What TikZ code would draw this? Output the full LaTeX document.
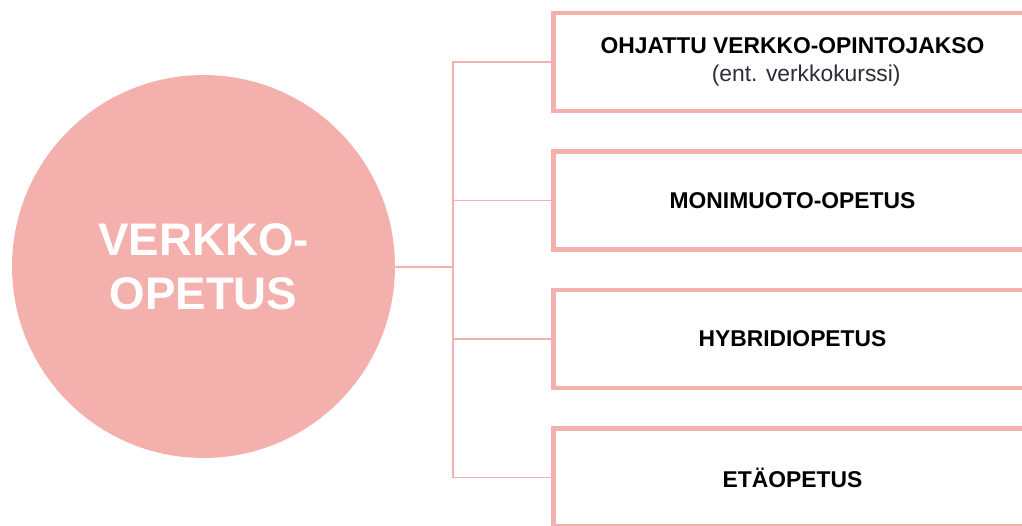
\documentclass[tikz,border=0pt]{standalone}
\usepackage{fontspec}
\setmainfont{Liberation Sans}
\definecolor{verkko}{RGB}{244,176,172}
\definecolor{subgray}{RGB}{45,45,55}

\begin{document}
\begin{tikzpicture}[x=0.02cm,y=-0.02cm,
  hub/.style={circle,fill=verkko,minimum size=7.66cm,inner sep=0pt,text=white,
    font=\fontsize{26}{31}\selectfont\bfseries,align=center},
  box/.style={draw=verkko,line width=2.8pt,fill=white,minimum width=9.56cm,
    minimum height=1.96cm,inner sep=0pt,font=\fontsize{13}{16}\selectfont\bfseries,align=center},
  link/.style={draw=verkko,line width=1.1pt}]
\useasboundingbox (0,0) rectangle (1022,525);
\node[hub] at (203.5,266.5) (hub) {VERKKO-\\OPETUS};
\node[box] at (792.5,62) (box1) {OHJATTU VERKKO-OPINTOJAKSO\\{\mdseries\color{subgray}\hspace*{1.2em}(ent. verkkokurssi)}};
\node[box] at (792.5,200.5) (box2) {MONIMUOTO-OPETUS};
\node[box] at (792.5,339) (box3) {HYBRIDIOPETUS};
\node[box] at (792.5,477.5) (box4) {ETÄOPETUS};
\coordinate (bus) at (453,267);
\draw[link] (hub) -- (bus);
\foreach \i in {1,...,4}
{
     \draw[link] (bus) |- (box\i.west);
}
\end{tikzpicture}
\end{document}
